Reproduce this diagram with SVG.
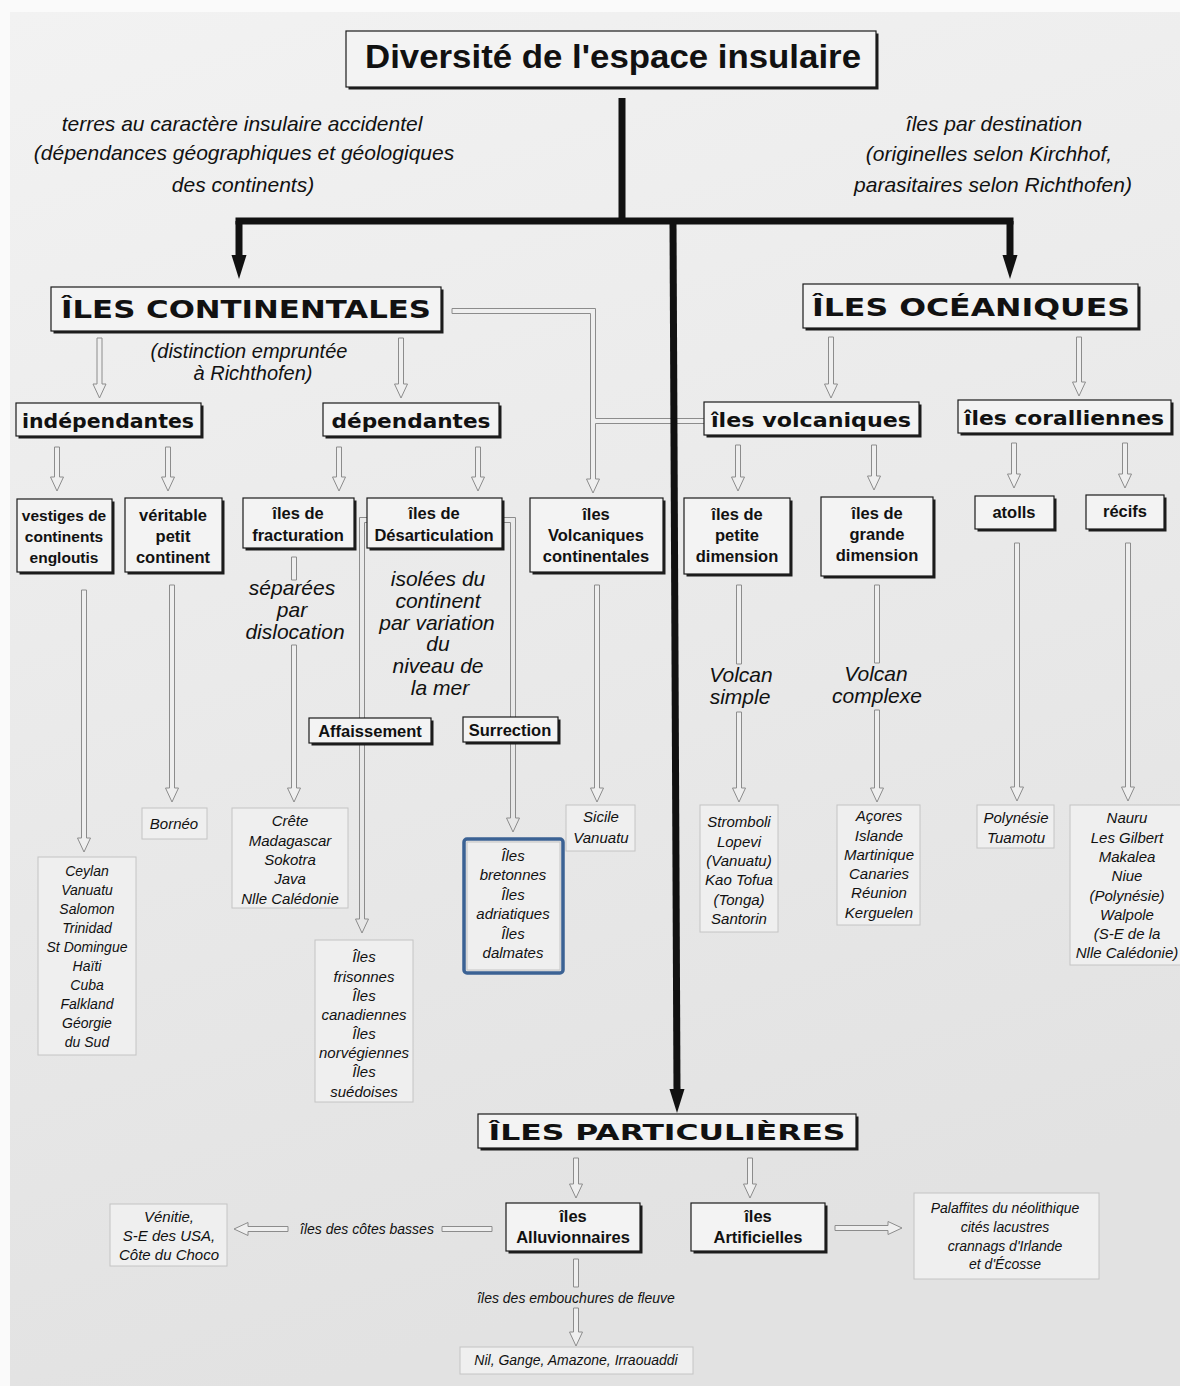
<svg xmlns="http://www.w3.org/2000/svg" width="1180" height="1386" viewBox="0 0 1180 1386">
<defs>
<linearGradient id="pg" x1="0" y1="0" x2="0.25" y2="1">
<stop offset="0" stop-color="#f2f2f2"/>
<stop offset="1" stop-color="#e2e2e2"/>
</linearGradient>
<style>
.box{fill:#f3f3f3;stroke:#1c1c1c;stroke-width:1.2}
.sh{fill:#1c1c1c}
.lb{fill:#efefef;stroke:#c4c4c4;stroke-width:1}
.hw{fill:#efefef;stroke:#8c8c8c;stroke-width:1}
.hn{fill:none;stroke:#8c8c8c;stroke-width:1}
.tk{fill:none;stroke:#111;stroke-width:7}
.ah{fill:#111}
.blue{fill:none;stroke:#3b6294;stroke-width:3.5}
text{fill:#111;text-anchor:middle}
.tt{font-family:"Liberation Sans",Arial,sans-serif;font-weight:bold;font-size:33px}
.h1{font-family:"DejaVu Sans",sans-serif;font-weight:bold;font-size:24px}
.h2{font-family:"DejaVu Sans",sans-serif;font-weight:bold;font-size:20px}
.b{font-family:"Liberation Sans",Arial,sans-serif;font-weight:bold;font-size:16.5px}
.i{font-family:"Liberation Sans",Arial,sans-serif;font-style:italic;font-size:15px}
.is{font-family:"Liberation Sans",Arial,sans-serif;font-style:italic;font-size:14px}
.d{font-family:"Liberation Sans",Arial,sans-serif;font-style:italic;font-size:21px}
</style>
</defs>
<rect x="0" y="0" width="1180" height="1386" fill="#fafafa"/>
<rect x="10" y="12" width="1170" height="1374" fill="url(#pg)"/>

<g id="connectors">
<g id="hollow">
<path class="hw" d="M97,338 V384 H93 L99.5,398 L106,384 H102 V338 Z"/>
<path class="hw" d="M398.5,338 V384 H394.5 L401,398 L407.5,384 H403.5 V338 Z"/>
<path class="hw" d="M828.5,337 V384 H824.5 L831,398 L837.5,384 H833.5 V337 Z"/>
<path class="hw" d="M1076.5,337 V382 H1072.5 L1079,396 L1085.5,382 H1081.5 V337 Z"/>
<path class="hw" d="M54.5,447 V477 H50.5 L57,491 L63.5,477 H59.5 V447 Z"/>
<path class="hw" d="M165.5,447 V477 H161.5 L168,491 L174.5,477 H170.5 V447 Z"/>
<path class="hw" d="M336.5,447 V477 H332.5 L339,491 L345.5,477 H341.5 V447 Z"/>
<path class="hw" d="M475.5,447 V477 H471.5 L478,491 L484.5,477 H480.5 V447 Z"/>
<path class="hw" d="M735.5,445 V477 H731.5 L738,491 L744.5,477 H740.5 V445 Z"/>
<path class="hw" d="M871.5,445 V476 H867.5 L874,490 L880.5,476 H876.5 V445 Z"/>
<path class="hw" d="M1011.5,443 V474 H1007.5 L1014,488 L1020.5,474 H1016.5 V443 Z"/>
<path class="hw" d="M1122.5,443 V474 H1118.5 L1125,488 L1131.5,474 H1127.5 V443 Z"/>
<path class="hw" d="M81.5,590 V838 H77.5 L84,852 L90.5,838 H86.5 V590 Z"/>
<path class="hw" d="M169.5,585 V788 H165.5 L172,802 L178.5,788 H174.5 V585 Z"/>
<path class="hw" d="M291.5,557 V580 H296.5 V557 Z"/>
<path class="hw" d="M291.5,645 V788 H287.5 L294,802 L300.5,788 H296.5 V645 Z"/>
<path class="hw" d="M594.5,585 V788 H590.5 L597,802 L603.5,788 H599.5 V585 Z"/>
<path class="hw" d="M736.5,585 V664 H741.5 V585 Z"/>
<path class="hw" d="M736.5,712 V788 H732.5 L739,802 L745.5,788 H741.5 V712 Z"/>
<path class="hw" d="M874.5,585 V663 H879.5 V585 Z"/>
<path class="hw" d="M874.5,710 V788 H870.5 L877,802 L883.5,788 H879.5 V710 Z"/>
<path class="hw" d="M1014.5,543 V787 H1010.5 L1017,801 L1023.5,787 H1019.5 V543 Z"/>
<path class="hw" d="M1125.5,543 V787 H1121.5 L1128,801 L1134.5,787 H1130.5 V543 Z"/>
<path class="hw" d="M573.5,1158 V1184 H569.5 L576,1198 L582.5,1184 H578.5 V1158 Z"/>
<path class="hw" d="M747.5,1158 V1184 H743.5 L750,1198 L756.5,1184 H752.5 V1158 Z"/>
<path class="hw" d="M573.5,1259 V1287 H578.5 V1259 Z"/>
<path class="hw" d="M573.5,1308 V1332 H569.5 L576,1346 L582.5,1332 H578.5 V1308 Z"/>
<path class="hw" d="M288,1226.5 H248 V1222.5 L234,1229 L248,1235.5 V1231.5 H288 Z"/>
<path class="hw" d="M442,1226.5 H492 V1231.5 H442 Z"/>
<path class="hw" d="M835,1225.5 H888 V1221.5 L902,1228 L888,1234.5 V1230.5 H835 Z"/>
<path class="hw" d="M452,308.5 H595.5 V479 H599.5 L593,493 L586.5,479 H590.5 V313.5 H452 Z"/>
<path d="M591,418.5 H704 V423.5 H591 Z" fill="#efefef"/>
<path class="hn" d="M595.5,418.5 H704 M595.5,423.5 H704"/>
<path class="hn" d="M367,517.5 H359.5 V919 H355.5 L362,933 L368.5,919 H364.5 V522.5 H367"/>
<path class="hn" d="M502.5,517.5 H515.5 V818 H519.5 L513,832 L506.5,818 H510.5 V522.5 H502.5"/>
</g>
<g id="thick">
<path class="tk" d="M622,98 V221"/>
<path class="tk" d="M239,221 H1010" stroke-linecap="square"/>
<path class="tk" d="M239,221 V258"/>
<polygon class="ah" points="231.5,255 246.5,255 239,279"/>
<path class="tk" d="M1010,221 V258"/>
<polygon class="ah" points="1002.5,255 1017.5,255 1010,279"/>
<path class="tk" d="M673,221 L677,1092"/>
<polygon class="ah" points="669.5,1089 684.5,1089 677,1113"/>
</g>
</g>

<g id="title">
<rect class="sh" x="348.5" y="33.5" width="530" height="56"/>
<rect class="box" x="346" y="31" width="530" height="56"/>
<text class="tt" x="613" y="68" textLength="496" lengthAdjust="spacingAndGlyphs">Diversité de l'espace insulaire</text>
</g>
<g id="note-left">
<text class="d" x="242" y="131">terres au caractère insulaire accidentel</text>
<text class="d" x="244" y="160">(dépendances géographiques et géologiques</text>
<text class="d" x="243" y="192">des continents)</text>
</g>
<g id="note-right">
<text class="d" x="994" y="131">îles par destination</text>
<text class="d" x="989" y="161">(originelles selon Kirchhof,</text>
<text class="d" x="993" y="192">parasitaires selon Richthofen)</text>
</g>

<g id="continentales">
<rect class="sh" x="53.5" y="289.5" width="390" height="44"/>
<rect class="box" x="51" y="287" width="390" height="44"/>
<text class="h1" x="246" y="318" textLength="370" lengthAdjust="spacingAndGlyphs">ÎLES CONTINENTALES</text>
</g>
<g id="oceaniques">
<rect class="sh" x="805.5" y="286.5" width="335" height="44"/>
<rect class="box" x="803" y="284" width="335" height="44"/>
<text class="h1" x="971" y="316" textLength="318" lengthAdjust="spacingAndGlyphs">ÎLES OCÉANIQUES</text>
</g>
<g id="note-richthofen">
<text class="d" x="249" y="358" style="font-size:20px">(distinction empruntée</text>
<text class="d" x="253" y="380" style="font-size:20px">à Richthofen)</text>
</g>

<g id="independantes">
<rect class="sh" x="18.5" y="405.5" width="185" height="33"/>
<rect class="box" x="16" y="403" width="185" height="33"/>
<text class="h2" x="108" y="428" textLength="172" lengthAdjust="spacingAndGlyphs">indépendantes</text>
</g>
<g id="dependantes">
<rect class="sh" x="325.5" y="405.5" width="176" height="33"/>
<rect class="box" x="323" y="403" width="176" height="33"/>
<text class="h2" x="411" y="428" textLength="159" lengthAdjust="spacingAndGlyphs">dépendantes</text>
</g>
<g id="volcaniques">
<rect class="sh" x="706.5" y="404.5" width="215" height="33"/>
<rect class="box" x="704" y="402" width="215" height="33"/>
<text class="h2" x="811" y="427" textLength="200" lengthAdjust="spacingAndGlyphs">îles volcaniques</text>
</g>
<g id="coralliennes">
<rect class="sh" x="960.5" y="402.5" width="213" height="33"/>
<rect class="box" x="958" y="400" width="213" height="33"/>
<text class="h2" x="1064" y="425" textLength="200" lengthAdjust="spacingAndGlyphs">îles coralliennes</text>
</g>

<g id="vestiges">
<rect class="sh" x="19.5" y="501.5" width="95" height="73"/>
<rect class="box" x="17" y="499" width="95" height="73"/>
<text class="b" x="64" y="521" style="font-size:15.5px">vestiges de</text>
<text class="b" x="64" y="542" style="font-size:15.5px">continents</text>
<text class="b" x="64" y="563" style="font-size:15.5px">engloutis</text>
</g>
<g id="veritable">
<rect class="sh" x="127.5" y="500.5" width="97" height="74"/>
<rect class="box" x="125" y="498" width="97" height="74"/>
<text class="b" x="173" y="521">véritable</text>
<text class="b" x="173" y="542">petit</text>
<text class="b" x="173" y="563">continent</text>
</g>
<g id="fracturation">
<rect class="sh" x="245.5" y="500.5" width="111" height="50"/>
<rect class="box" x="243" y="498" width="111" height="50"/>
<text class="b" x="298" y="519">îles de</text>
<text class="b" x="298" y="541">fracturation</text>
</g>
<g id="desarticulation">
<rect class="sh" x="369.5" y="500.5" width="135" height="50"/>
<rect class="box" x="367" y="498" width="135" height="50"/>
<text class="b" x="434" y="519">îles de</text>
<text class="b" x="434" y="541">Désarticulation</text>
</g>
<g id="volc-continentales">
<rect class="sh" x="532.5" y="500.5" width="133" height="74"/>
<rect class="box" x="530" y="498" width="133" height="74"/>
<text class="b" x="596" y="520">îles</text>
<text class="b" x="596" y="541">Volcaniques</text>
<text class="b" x="596" y="562">continentales</text>
</g>
<g id="petite">
<rect class="sh" x="686.5" y="500.5" width="106" height="76"/>
<rect class="box" x="684" y="498" width="106" height="76"/>
<text class="b" x="737" y="520">îles de</text>
<text class="b" x="737" y="541">petite</text>
<text class="b" x="737" y="562">dimension</text>
</g>
<g id="grande">
<rect class="sh" x="823.5" y="499.5" width="112" height="79"/>
<rect class="box" x="821" y="497" width="112" height="79"/>
<text class="b" x="877" y="519">îles de</text>
<text class="b" x="877" y="540">grande</text>
<text class="b" x="877" y="561">dimension</text>
</g>
<g id="atolls">
<rect class="sh" x="977.5" y="498.5" width="79" height="33"/>
<rect class="box" x="975" y="496" width="79" height="33"/>
<text class="b" x="1014" y="518">atolls</text>
</g>
<g id="recifs">
<rect class="sh" x="1088.5" y="497.5" width="78" height="34"/>
<rect class="box" x="1086" y="495" width="78" height="34"/>
<text class="b" x="1125" y="517">récifs</text>
</g>

<g id="note-dislocation">
<text class="d" x="292" y="595">séparées</text>
<text class="d" x="292" y="617">par</text>
<text class="d" x="295" y="639">dislocation</text>
</g>
<g id="note-niveau">
<text class="d" x="438" y="586">isolées du</text>
<text class="d" x="438" y="608">continent</text>
<text class="d" x="437" y="630">par variation</text>
<text class="d" x="438" y="651">du</text>
<text class="d" x="438" y="673">niveau de</text>
<text class="d" x="440" y="695">la mer</text>
</g>
<g id="note-simple">
<text class="d" x="741" y="682">Volcan</text>
<text class="d" x="740" y="704">simple</text>
</g>
<g id="note-complexe">
<text class="d" x="876" y="681">Volcan</text>
<text class="d" x="877" y="703">complexe</text>
</g>

<g id="affaissement">
<rect class="sh" x="311.5" y="720.5" width="122" height="25"/>
<rect class="box" x="309" y="718" width="122" height="25"/>
<text class="b" x="370" y="737">Affaissement</text>
</g>
<g id="surrection">
<rect class="sh" x="465.5" y="719.5" width="95" height="25"/>
<rect class="box" x="463" y="717" width="95" height="25"/>
<text class="b" x="510" y="736">Surrection</text>
</g>

<g id="list-ceylan">
<rect class="lb" x="38" y="857" width="98" height="198"/>
<text class="is" x="87" y="876">Ceylan</text>
<text class="is" x="87" y="895">Vanuatu</text>
<text class="is" x="87" y="914">Salomon</text>
<text class="is" x="87" y="933">Trinidad</text>
<text class="is" x="87" y="952">St Domingue</text>
<text class="is" x="87" y="971">Haïti</text>
<text class="is" x="87" y="990">Cuba</text>
<text class="is" x="87" y="1009">Falkland</text>
<text class="is" x="87" y="1028">Géorgie</text>
<text class="is" x="87" y="1047">du Sud</text>
</g>
<g id="list-borneo">
<rect class="lb" x="142" y="808" width="65" height="31"/>
<text class="i" x="174" y="829">Bornéo</text>
</g>
<g id="list-crete">
<rect class="lb" x="232" y="808" width="116" height="100"/>
<text class="i" x="290" y="826">Crête</text>
<text class="i" x="290" y="846">Madagascar</text>
<text class="i" x="290" y="865">Sokotra</text>
<text class="i" x="290" y="884">Java</text>
<text class="i" x="290" y="904">Nlle Calédonie</text>
</g>
<g id="list-frisonnes">
<rect class="lb" x="315" y="940" width="98" height="162"/>
<text class="i" x="364" y="962">Îles</text>
<text class="i" x="364" y="982">frisonnes</text>
<text class="i" x="364" y="1001">Îles</text>
<text class="i" x="364" y="1020">canadiennes</text>
<text class="i" x="364" y="1039">Îles</text>
<text class="i" x="364" y="1058">norvégiennes</text>
<text class="i" x="364" y="1077">Îles</text>
<text class="i" x="364" y="1097">suédoises</text>
</g>
<g id="list-bretonnes">
<rect class="lb" x="467" y="842" width="93" height="128"/>
<rect class="blue" x="464" y="839" width="99" height="134" rx="3"/>
<text class="i" x="513" y="861">Îles</text>
<text class="i" x="513" y="880">bretonnes</text>
<text class="i" x="513" y="900">Îles</text>
<text class="i" x="513" y="919">adriatiques</text>
<text class="i" x="513" y="939">Îles</text>
<text class="i" x="513" y="958">dalmates</text>
</g>
<g id="list-sicile">
<rect class="lb" x="566" y="805" width="69" height="46"/>
<text class="i" x="601" y="822">Sicile</text>
<text class="i" x="601" y="843">Vanuatu</text>
</g>
<g id="list-stromboli">
<rect class="lb" x="700" y="805" width="78" height="127"/>
<text class="i" x="739" y="827">Stromboli</text>
<text class="i" x="739" y="847">Lopevi</text>
<text class="i" x="739" y="866">(Vanuatu)</text>
<text class="i" x="739" y="885">Kao Tofua</text>
<text class="i" x="739" y="905">(Tonga)</text>
<text class="i" x="739" y="924">Santorin</text>
</g>
<g id="list-acores">
<rect class="lb" x="837" y="805" width="83" height="120"/>
<text class="i" x="879" y="821">Açores</text>
<text class="i" x="879" y="841">Islande</text>
<text class="i" x="879" y="860">Martinique</text>
<text class="i" x="879" y="879">Canaries</text>
<text class="i" x="879" y="898">Réunion</text>
<text class="i" x="879" y="918">Kerguelen</text>
</g>
<g id="list-polynesie">
<rect class="lb" x="977" y="805" width="77" height="43"/>
<text class="i" x="1016" y="823">Polynésie</text>
<text class="i" x="1016" y="843">Tuamotu</text>
</g>
<g id="list-nauru">
<rect class="lb" x="1070" y="805" width="112" height="160"/>
<text class="i" x="1127" y="823">Nauru</text>
<text class="i" x="1127" y="843">Les Gilbert</text>
<text class="i" x="1127" y="862">Makalea</text>
<text class="i" x="1127" y="881">Niue</text>
<text class="i" x="1127" y="901">(Polynésie)</text>
<text class="i" x="1127" y="920">Walpole</text>
<text class="i" x="1127" y="939">(S-E de la</text>
<text class="i" x="1127" y="958">Nlle Calédonie)</text>
</g>

<g id="particulieres">
<rect class="sh" x="480.5" y="1116.5" width="378" height="34"/>
<rect class="box" x="478" y="1114" width="378" height="34"/>
<text class="h1" x="667" y="1140" style="font-size:22px" textLength="357" lengthAdjust="spacingAndGlyphs">ÎLES PARTICULIÈRES</text>
</g>
<g id="alluvionnaires">
<rect class="sh" x="508.5" y="1205.5" width="134" height="48"/>
<rect class="box" x="506" y="1203" width="134" height="48"/>
<text class="b" x="573" y="1222">îles</text>
<text class="b" x="573" y="1243">Alluvionnaires</text>
</g>
<g id="artificielles">
<rect class="sh" x="693.5" y="1205.5" width="134" height="48"/>
<rect class="box" x="691" y="1203" width="134" height="48"/>
<text class="b" x="758" y="1222">îles</text>
<text class="b" x="758" y="1243">Artificielles</text>
</g>
<g id="label-cotes">
<text class="is" x="367" y="1234">îles des côtes basses</text>
</g>
<g id="list-venitie">
<rect class="lb" x="110" y="1204" width="117" height="62"/>
<text class="i" x="169" y="1222">Vénitie,</text>
<text class="i" x="169" y="1241">S-E des USA,</text>
<text class="i" x="169" y="1260">Côte du Choco</text>
</g>
<g id="list-palaffites">
<rect class="lb" x="914" y="1193" width="185" height="86"/>
<text class="is" x="1005" y="1213">Palaffites du néolithique</text>
<text class="is" x="1005" y="1232">cités lacustres</text>
<text class="is" x="1005" y="1251">crannags d'Irlande</text>
<text class="is" x="1005" y="1269">et d'Écosse</text>
</g>
<g id="label-embouchures">
<text class="is" x="576" y="1303">îles des embouchures de fleuve</text>
</g>
<g id="list-nil">
<rect class="lb" x="460" y="1347" width="233" height="27"/>
<text class="is" x="576" y="1365">Nil, Gange, Amazone, Irraouaddi</text>
</g>
</svg>
